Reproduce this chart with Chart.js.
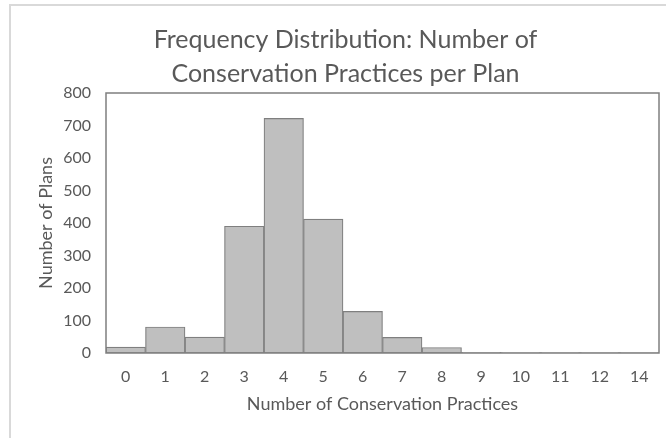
<!DOCTYPE html>
<html>
<head>
<meta charset="utf-8">
<script src="https://cdn.jsdelivr.net/npm/chart.js@4/dist/chart.umd.min.js"></script>
<style>
  html, body { margin: 0; padding: 0; background: #ffffff; overflow: hidden; }
  #wrap { position: relative; width: 666px; height: 438px; overflow: hidden; }
  #frame { position: absolute; left: 9px; top: 4px; width: 700px; height: 440px;
           border-left: 2px solid #d9d9d9; border-top: 2px solid #d9d9d9; }
  canvas { position: absolute; left: 0; top: 0; }
</style>
</head>
<body>
<div id="wrap">
  <div id="frame"></div>
  <canvas id="c" width="692" height="438"></canvas>
</div>
<script>
// Practices per plan (categories) and how many plans have that count
const practiceCounts = ['0', '1', '2', '3', '4', '5', '6', '7', '8', '9', '10', '11', '12', '14'];
const planCounts = [18, 80, 49, 390, 722, 412, 128, 48, 17, 2, 1, 1, 1, 1];
const yTickValues = [0, 100, 200, 300, 400, 500, 600, 700, 800];

const chartTitle = ['Frequency Distribution: Number of', 'Conservation Practices per Plan'];
const xAxisTitle = 'Number of Conservation Practices';
const yAxisTitle = 'Number of Plans';

const textColor = '#595959';
const fontFamily = 'Lato, "Open Sans", sans-serif';

// Frame around the plotting area
const plotFrame = {
  id: 'plotFrame',
  afterDatasetsDraw(chart) {
    const a = chart.chartArea;
    const ctx = chart.ctx;
    ctx.save();
    ctx.strokeStyle = '#7f7f7f';
    ctx.lineWidth = 1.5;
    ctx.strokeRect(a.left, a.top, a.right - a.left, a.bottom - a.top);
    ctx.restore();
  }
};

new Chart(document.getElementById('c'), {
  type: 'bar',
  data: {
    labels: practiceCounts,
    datasets: [{
      data: planCounts,
      backgroundColor: '#bfbfbf',
      borderColor: '#7f7f7f',
      borderWidth: 1.2,
      borderSkipped: false,
      categoryPercentage: 1.0,
      barPercentage: 1.0
    }]
  },
  options: {
    responsive: false,
    animation: false,
    devicePixelRatio: 1,
    layout: { padding: { left: 32, right: 33, top: 0, bottom: 0 } },
    plugins: {
      legend: { display: false },
      tooltip: { enabled: false },
      title: {
        display: true,
        text: chartTitle,
        color: textColor,
        font: { family: fontFamily, size: 25, weight: 'normal', lineHeight: 1.36 },
        padding: { top: 23, bottom: 2 }
      }
    },
    scales: {
      x: {
        grid: { display: false, drawTicks: false },
        border: { display: false },
        afterFit(scale) { scale.height = 85; },
        ticks: {
          color: textColor,
          font: { family: fontFamily, size: 16 },
          padding: 14,
          maxRotation: 0,
          autoSkip: false
        },
        title: {
          display: true,
          text: xAxisTitle,
          color: textColor,
          font: { family: fontFamily, size: 18 },
          padding: { top: 4, bottom: 23 }
        }
      },
      y: {
        min: 0,
        max: 800,
        grid: { display: false, drawTicks: false },
        border: { display: false },
        afterBuildTicks(scale) {
          scale.ticks = yTickValues.map(v => ({ value: v }));
        },
        afterFit(scale) { scale.width = 74; },
        ticks: {
          color: textColor,
          font: { family: fontFamily, size: 16 },
          padding: 15
        },
        title: {
          display: true,
          text: yAxisTitle,
          color: textColor,
          font: { family: fontFamily, size: 18 },
          padding: { top: 3, bottom: 0 }
        }
      }
    }
  },
  plugins: [plotFrame]
});
</script>
</body>
</html>
